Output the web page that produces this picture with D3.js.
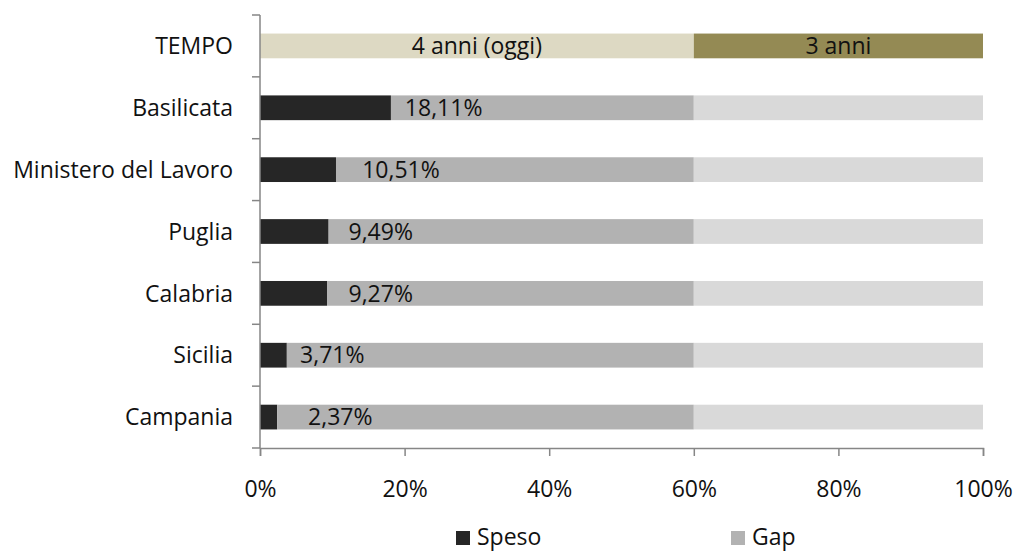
<!DOCTYPE html>
<html>
<head>
<meta charset="utf-8">
<script src="https://cdn.jsdelivr.net/npm/d3@7"></script>
<style>
  html, body { margin: 0; padding: 0; background: #fff; }
  svg { display: block; font-family: "Open Sans", Lato, sans-serif; }
</style>
</head>
<body>
<svg id="chart" width="1015" height="552"></svg>
<script>
// categories, top to bottom
const categories = ["TEMPO", "Basilicata", "Ministero del Lavoro", "Puglia", "Calabria", "Sicilia", "Campania"];
// percent spent per region (TEMPO row has no spending)
const speso = [null, 18.11, 10.51, 9.49, 9.27, 3.71, 2.37];
// where the value label sits (percent of axis, text centre)
const labelAt = [null, 25.4, 19.5, 16.7, 16.7, 10.0, 11.1];
const gapEnd = 60;          // Speso + Gap = 4 anni (oggi)
const tempoParts = [
  { label: "4 anni (oggi)", from: 0, to: 60 },
  { label: "3 anni", from: 60, to: 100 }
];
const xTicks = [0, 20, 40, 60, 80, 100];
const legend = ["Speso", "Gap"];

(function () {
  const colors = {
    speso: "#262626",
    gap: "#b2b2b2",
    rest: "#d9d9d9",
    tempo: ["#ddd9c3", "#948a54"],
    axis: "#868686",
    text: "#111"
  };
  const fs = 23;

  const svg = d3.select("#chart");
  const plotL = 260, plotR = 983, plotT = 15, plotB = 448;

  const x = d3.scaleLinear().domain([0, 100]).range([plotL, plotR]);
  const y = d3.scaleBand().domain(categories).range([plotT, plotB])
    .paddingInner(0.6).paddingOuter(0.3);
  const step = y.step();

  // bars
  categories.forEach((cat, i) => {
    const by = y(cat), bh = y.bandwidth();
    if (i === 0) {
      tempoParts.forEach((p, k) => {
        svg.append("rect").attr("x", x(p.from)).attr("y", by)
          .attr("width", x(p.to) - x(p.from)).attr("height", bh)
          .attr("fill", colors.tempo[k]);
        svg.append("text").attr("x", x((p.from + p.to) / 2)).attr("y", by + bh / 2)
          .attr("dy", "0.36em").attr("text-anchor", "middle")
          .attr("font-size", fs).attr("fill", colors.text).text(p.label);
      });
      return;
    }
    const s = speso[i];
    svg.append("rect").attr("x", x(0)).attr("y", by)
      .attr("width", x(s) - x(0)).attr("height", bh).attr("fill", colors.speso);
    svg.append("rect").attr("x", x(s)).attr("y", by)
      .attr("width", x(gapEnd) - x(s)).attr("height", bh).attr("fill", colors.gap);
    svg.append("rect").attr("x", x(gapEnd)).attr("y", by)
      .attr("width", x(100) - x(gapEnd)).attr("height", bh).attr("fill", colors.rest);
    svg.append("text").attr("x", x(labelAt[i])).attr("y", by + bh / 2)
      .attr("dy", "0.36em").attr("text-anchor", "middle")
      .attr("font-size", fs).attr("fill", colors.text)
      .text(s.toFixed(2).replace(".", ",") + "%");
  });

  // y axis: line + ticks at band boundaries
  svg.append("line").attr("x1", plotL).attr("x2", plotL).attr("y1", plotT).attr("y2", plotB)
    .attr("stroke", colors.axis).attr("stroke-width", 1.5);
  d3.range(categories.length + 1).forEach(k => {
    const ty = plotT + k * step;
    svg.append("line").attr("x1", plotL - 8).attr("x2", plotL).attr("y1", ty).attr("y2", ty)
      .attr("stroke", colors.axis).attr("stroke-width", 1.5);
  });
  categories.forEach(cat => {
    svg.append("text").attr("x", plotL - 27).attr("y", y(cat) + y.bandwidth() / 2)
      .attr("dy", "0.36em").attr("text-anchor", "end")
      .attr("font-size", fs).attr("fill", colors.text).text(cat);
  });

  // x axis
  const xAxis = svg.append("g").attr("transform", `translate(0,${plotB})`)
    .call(d3.axisBottom(x).tickValues(xTicks).tickSize(8).tickPadding(25)
      .tickFormat(d => d + "%"));
  xAxis.select(".domain").attr("stroke", colors.axis).attr("stroke-width", 1.5);
  xAxis.selectAll(".tick line").attr("stroke", colors.axis).attr("stroke-width", 1.5);
  xAxis.selectAll(".tick text").attr("font-size", fs).attr("fill", colors.text)
    .attr("font-family", "'Open Sans', Lato, sans-serif");

  // legend
  const legX = [456, 731];
  legend.forEach((name, k) => {
    svg.append("rect").attr("x", legX[k]).attr("y", 531).attr("width", 14).attr("height", 14)
      .attr("fill", k === 0 ? colors.speso : colors.gap);
    svg.append("text").attr("x", legX[k] + 21).attr("y", 545)
      .attr("font-size", fs).attr("fill", colors.text).text(name);
  });
})();
</script>
</body>
</html>
